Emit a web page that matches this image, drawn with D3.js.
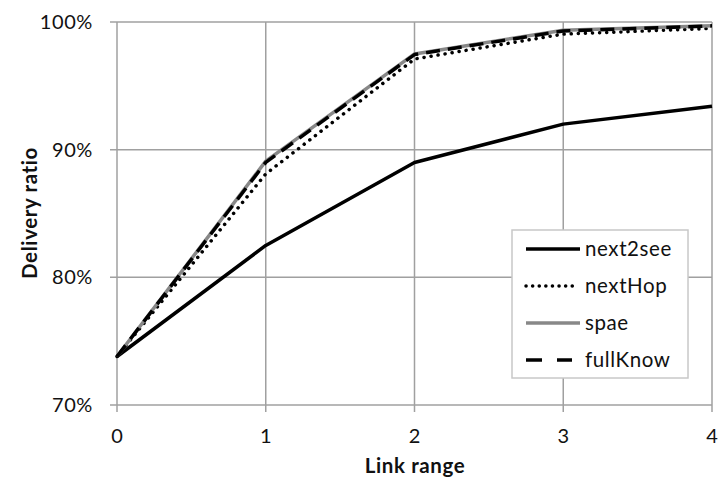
<!DOCTYPE html>
<html><head><meta charset="utf-8">
<script src="https://cdn.jsdelivr.net/npm/d3@7"></script>
<style>body{margin:0;background:#fff}svg{display:block}text{font-family:Lato,"Open Sans",sans-serif}</style>
</head><body>
<svg id="c" width="720" height="481"></svg>
<script>
const linkRange = [0, 1, 2, 3, 4];
const next2see = [73.8, 82.5, 89.0, 92.0, 93.4];
const nextHop  = [73.8, 88.1, 97.1, 99.05, 99.5];
const spae     = [73.8, 89.1, 97.5, 99.35, 99.7];
const fullKnow = [73.8, 89.0, 97.45, 99.3, 99.7];
const yTicks = [70, 80, 90, 100];
const seriesNames = ["next2see", "nextHop", "spae", "fullKnow"];

const svg = d3.select("#c");
const x = d3.scaleLinear().domain([0, 4]).range([117, 712]);
const y = d3.scaleLinear().domain([70, 100]).range([405, 22]);

// grid
const g = svg.append("g");
g.selectAll(".hg").data(yTicks).join("line")
  .attr("x1", 110).attr("x2", 712).attr("y1", d => y(d)).attr("y2", d => y(d))
  .attr("stroke", "#a0a0a0").attr("stroke-width", 1.5);
g.selectAll(".vg").data(linkRange).join("line")
  .attr("x1", d => x(d)).attr("x2", d => x(d)).attr("y1", 22).attr("y2", 412)
  .attr("stroke", "#a0a0a0").attr("stroke-width", 1.5);

// tick labels
svg.selectAll(".yl").data(yTicks).join("text")
  .attr("x", 93).attr("y", d => y(d) + 7).attr("text-anchor", "end")
  .attr("font-size", 20).attr("letter-spacing", 0.6).attr("fill", "#111").text(d => d + "%");
svg.selectAll(".xl").data(linkRange).join("text")
  .attr("x", d => x(d)).attr("y", 443).attr("text-anchor", "middle")
  .attr("font-size", 20).attr("fill", "#111").text(d => d);

// axis titles
svg.append("text").attr("x", 415).attr("y", 473).attr("text-anchor", "middle")
  .attr("font-size", 20.5).attr("letter-spacing", 0.6).attr("font-weight", "bold").attr("fill", "#111").text("Link range");
svg.append("text").attr("transform", "translate(37,213) rotate(-90)").attr("text-anchor", "middle")
  .attr("font-size", 20.5).attr("letter-spacing", 0.6).attr("font-weight", "bold").attr("fill", "#111").text("Delivery ratio");

const styles = {
  next2see: {stroke: "#000", dash: null, cap: "butt", w: 3.5},
  nextHop: {stroke: "#000", dash: "0.1 7", cap: "round", w: 3.5},
  spae: {stroke: "#888", dash: null, cap: "butt", w: 3.5},
  fullKnow: {stroke: "#000", dash: "14 8", cap: "butt", w: 3.5}
};
const dataMap = {next2see, nextHop, spae, fullKnow};
const line = d3.line().x((d, i) => x(linkRange[i])).y(d => y(d));
seriesNames.forEach(n => {
  const s = styles[n];
  svg.append("path").attr("d", line(dataMap[n])).attr("fill", "none")
    .attr("stroke", s.stroke).attr("stroke-width", s.w)
    .attr("stroke-dasharray", s.dash).attr("stroke-linecap", s.cap)
    .attr("stroke-linejoin", "round");
});

// legend
const lg = svg.append("g");
lg.append("rect").attr("x", 512).attr("y", 230).attr("width", 176).attr("height", 148)
  .attr("fill", "#fff").attr("stroke", "#c8c8c8").attr("stroke-width", 1.5);
const ly = d3.scalePoint().domain(seriesNames).range([249, 360]);
seriesNames.forEach(n => {
  const s = styles[n];
  lg.append("line").attr("x1", 526).attr("x2", n === "nextHop" ? 576 : (n === "fullKnow" ? 572 : 580))
    .attr("y1", ly(n)).attr("y2", ly(n))
    .attr("stroke", s.stroke).attr("stroke-width", s.w)
    .attr("stroke-dasharray", n === "nextHop" ? "0.1 6.5" : (n === "fullKnow" ? "16 15" : null))
    .attr("stroke-linecap", s.cap);
  lg.append("text").attr("x", 585).attr("y", ly(n) + 7).attr("font-size", 20.5)
    .attr("letter-spacing", 0.6).attr("fill", "#111").text(n);
});
</script>
</body></html>
